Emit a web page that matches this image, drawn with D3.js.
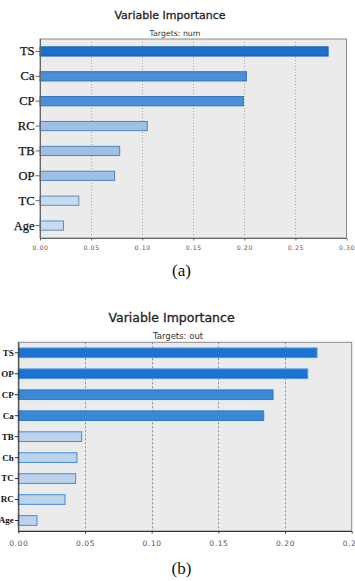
<!DOCTYPE html>
<html><head><meta charset="utf-8">
<script src="https://cdn.jsdelivr.net/npm/d3@7/dist/d3.min.js"></script>
<style>body{margin:0;background:#fff;}svg{display:block;}</style>
</head><body>
<svg id="c" width="355" height="581"></svg>
<script>
const catsA = ["TS","Ca","CP","RC","TB","OP","TC","Age"];
const valsA = [0.282,0.202,0.199,0.105,0.078,0.073,0.038,0.023];
const ticksA = [0,0.05,0.10,0.15,0.20,0.25,0.30];
const catsB = ["TS","OP","CP","Ca","TB","Ch","TC","RC","Age"];
const valsB = [0.224,0.217,0.191,0.184,0.0475,0.044,0.043,0.035,0.014];
const ticksB = [0,0.05,0.10,0.15,0.20,0.25];

const svg = d3.select("#c");

function panel(o){
  const g = svg.append("g");
  const x = d3.scaleLinear().domain([0,o.max]).range([o.l,o.r]);
  const y = d3.scaleBand().domain(o.cats).range([o.t,o.b]).paddingInner(o.pad).paddingOuter(o.pad/2);
  g.append("rect").attr("x",o.l).attr("y",o.t).attr("width",o.r-o.l).attr("height",o.b-o.t)
    .attr("fill","#ebebeb").attr("stroke",o.border).attr("stroke-width",1);
  g.selectAll(".grid").data(o.ticks.slice(1,-1)).join("line")
    .attr("x1",d=>Math.round(x(d))+0.5).attr("x2",d=>Math.round(x(d))+0.5)
    .attr("y1",o.t).attr("y2",o.b).attr("stroke",o.gridColor).attr("stroke-dasharray",o.dash);
  const data = o.cats.map((c,i)=>({c,v:o.vals[i]}));
  g.selectAll(".bar").data(data).join("rect")
    .attr("x",x(0)).attr("y",d=>y(d.c)).attr("width",d=>x(d.v)-x(0)).attr("height",y.bandwidth())
    .attr("fill",d=>o.fill(d.v)).attr("stroke",d=>o.stroke(d.v)).attr("stroke-width",1);
  g.append("line").attr("x1",o.l+0.5).attr("x2",o.l+0.5).attr("y1",o.t).attr("y2",o.b).attr("stroke",o.axis);
  g.append("line").attr("x1",o.l).attr("x2",o.r).attr("y1",o.b+0.5).attr("y2",o.b+0.5).attr("stroke",o.axis);
  const ya = d3.axisLeft(y).tickSize(o.tickLen).tickPadding(1);
  const yg = g.append("g").attr("transform",`translate(${o.l+0.5},0)`).call(ya);
  yg.select(".domain").remove();
  yg.selectAll("line").attr("stroke",o.axis);
  yg.selectAll("text").attr("font-family","'Liberation Serif','Times New Roman',serif")
    .attr("font-size",o.ylabSize).attr("fill","#111").attr("font-weight",o.ylabWeight)
    .attr("stroke","#111").attr("stroke-width",o.ylabStroke);
  const xa = d3.axisBottom(x).tickValues(o.ticks).tickFormat(d3.format(".2f")).tickSize(o.xTickLen).tickPadding(o.xPad);
  const xg = g.append("g").attr("transform",`translate(0,${o.b+0.5})`).call(xa);
  xg.select(".domain").remove();
  xg.selectAll("line").attr("stroke",o.axis);
  xg.selectAll("text").attr("font-family","'DejaVu Sans',Verdana,sans-serif")
    .attr("font-size",o.xlabSize).attr("fill","#555").attr("letter-spacing",o.ls);
  g.append("text").attr("x",o.titleX).attr("y",o.titleY).attr("text-anchor","middle")
    .attr("font-family","'DejaVu Sans',Verdana,sans-serif").attr("font-size",o.titleSize)
    .attr("fill","#222").attr("stroke","#222").attr("stroke-width",0.3).text("Variable Importance");
  g.append("text").attr("x",o.subX).attr("y",o.subY).attr("text-anchor","middle")
    .attr("font-family","'DejaVu Sans',Verdana,sans-serif").attr("font-size",o.subSize)
    .attr("fill","#333").text(o.sub);
  g.append("text").attr("x",o.capX).attr("y",o.capY).attr("text-anchor","middle")
    .attr("font-family","'Liberation Serif','Times New Roman',serif").attr("font-size",17)
    .attr("fill","#111").text(o.cap);
}

const fillA = d3.scaleThreshold().domain([0.06,0.15,0.25]).range(["#c6dcee","#9dc0e4","#4a8fd8","#1b6fcd"]);
const strokeA = d3.scaleThreshold().domain([0.06,0.15,0.25]).range(["#5d8fbe","#4f85bf","#2f70b8","#1a5fae"]);
panel({cats:catsA, vals:valsA, ticks:ticksA, max:0.30, l:40, r:346.5, t:39, b:238, pad:0.63,
  border:"#8a8a8a", axis:"#666", gridColor:"#a9a9a9", dash:"1,2",
  fill:fillA, stroke:strokeA, tickLen:5, ylabSize:12.5, ylabWeight:"normal", ylabStroke:0.25,
  xTickLen:2, xPad:5, xlabSize:6.2, ls:0.6,
  titleX:170, titleY:18.5, titleSize:11, sub:"Targets: num", subX:175, subY:35.5, subSize:7.8,
  cap:"(a)", capX:181.5, capY:276});

const fillB = d3.scaleThreshold().domain([0.15,0.2]).range(["#bed3ea","#3b88d6","#1a73d0"]);
const strokeB = d3.scaleThreshold().domain([0.15,0.2]).range(["#3d8be0","#2a7bd0","#4f95e0"]);
panel({cats:catsB, vals:valsB, ticks:ticksB, max:0.25, l:18.3, r:351.7, t:342.3, b:531, pad:0.54,
  border:"#8a8a8a", axis:"#333", gridColor:"#8a8a8a", dash:"2,2",
  fill:fillB, stroke:strokeB, tickLen:4, ylabSize:9, ylabWeight:"bold", ylabStroke:0,
  xTickLen:2, xPad:7, xlabSize:7.5, ls:0.6,
  titleX:171.5, titleY:322, titleSize:12.5, sub:"Targets: out", subX:178, subY:338.7, subSize:8.5,
  cap:"(b)", capX:181.5, capY:574});
</script>
</body></html>
